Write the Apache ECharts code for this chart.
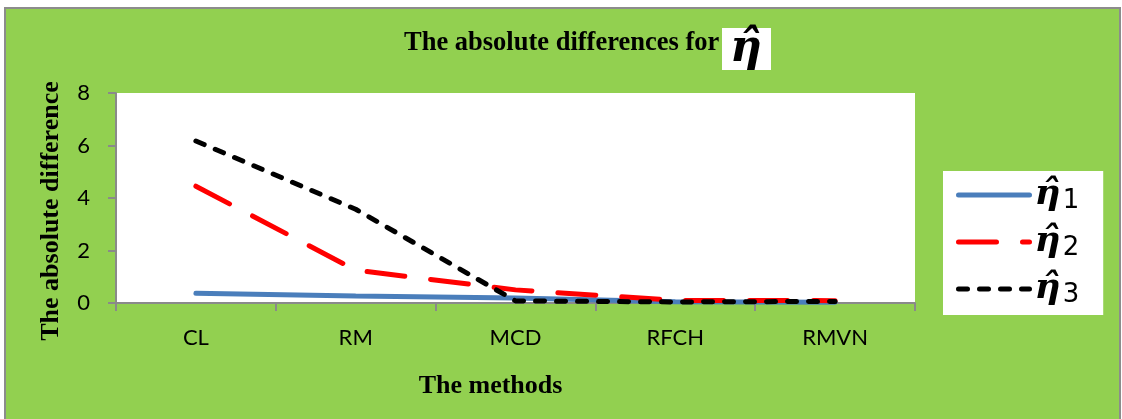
<!DOCTYPE html>
<html>
<head>
<meta charset="utf-8">
<script src="https://cdn.jsdelivr.net/npm/echarts@6/dist/echarts.min.js"></script>
<style>
  html, body { margin: 0; padding: 0; background: #fff; }
  #chart { width: 1122px; height: 419px; }
</style>
</head>
<body>
<div id="chart"></div>
<script>
// Methods compared along the x axis
const categories = ['CL', 'RM', 'MCD', 'RFCH', 'RMVN'];

// Absolute differences for each estimator
const eta1 = [0.37, 0.27, 0.19, 0.05, 0.03];
const eta2 = [4.45, 1.25, 0.50, 0.10, 0.09];
const eta3 = [6.17, 3.57, 0.08, 0.04, 0.06];

const seriesNames = ['η̂1', 'η̂2', 'η̂3'];
const yTicks = [0, 2, 4, 6, 8];

const axisGrey = '#8a8a8a';
const labelFont = 'Lato, "Open Sans", sans-serif';
const serifFont = '"Liberation Serif", "DejaVu Serif", serif';

const chart = echarts.init(document.getElementById('chart'), null, { renderer: 'canvas' });

chart.setOption({
  backgroundColor: '#fff',
  animation: false,
  title: {
    text: 'The absolute differences for',
    left: 404,
    top: 30,
    padding: 0,
    textStyle: { fontFamily: serifFont, fontWeight: 'bold', fontSize: 26.5, color: '#000' }
  },
  graphic: [
    {
      type: 'rect', z: -10, silent: true,
      shape: { x: 5, y: 8, width: 1115, height: 420 },
      style: { fill: '#92D050', stroke: '#8c8c8c', lineWidth: 2 }
    },
    {
      type: 'group', left: 722, top: 28, z: 10,
      children: [
        { type: 'rect', shape: { x: 0, y: 0, width: 49, height: 42 }, style: { fill: '#fff' } },
        {
          type: 'text', x: 24, y: 22,
          style: {
            text: 'η̂', align: 'center', verticalAlign: 'middle',
            font: 'italic bold 44px "DejaVu Serif", serif', fill: '#000'
          }
        }
      ]
    }
  ],
  legend: {
    orient: 'vertical',
    left: 943,
    top: 171,
    padding: [5, 24, 7, 13],
    backgroundColor: '#fff',
    itemWidth: 71,
    itemHeight: 20,
    itemGap: 9,
    itemStyle: { opacity: 0 },
    lineStyle: { width: 5, cap: 'round' },
    data: seriesNames,
    formatter: n => '{e|' + n.slice(0, -1) + '}{s|' + n.slice(-1) + '}',
    textStyle: {
      rich: {
        e: { fontFamily: '"DejaVu Serif", serif', fontStyle: 'italic', fontWeight: 'bold', fontSize: 36, lineHeight: 40, color: '#000' },
        s: { fontFamily: '"DejaVu Sans", sans-serif', fontSize: 26, lineHeight: 40, padding: [12, 0, 0, 2], color: '#000' }
      }
    }
  },
  grid: {
    left: 116, right: 207, top: 93, bottom: 116,
    show: true, backgroundColor: '#fff', borderWidth: 0
  },
  xAxis: {
    type: 'category',
    data: categories,
    boundaryGap: true,
    name: 'The methods',
    nameLocation: 'middle',
    nameGap: 70,
    nameTextStyle: {
      fontFamily: serifFont, fontWeight: 'bold', fontSize: 26, color: '#000',
      padding: [0, 50, 0, 0]
    },
    axisLine: { lineStyle: { color: axisGrey, width: 2 } },
    axisTick: { show: true, length: 8, lineStyle: { color: axisGrey, width: 2 } },
    axisLabel: { margin: 24, fontFamily: labelFont, fontSize: 22, color: '#000' },
    splitLine: { show: false }
  },
  yAxis: {
    type: 'value',
    min: yTicks[0],
    max: yTicks[yTicks.length - 1],
    interval: yTicks[1] - yTicks[0],
    name: 'The absolute difference',
    nameLocation: 'middle',
    nameRotate: 90,
    nameGap: 52,
    nameTextStyle: {
      fontFamily: serifFont, fontWeight: 'bold', fontSize: 26, color: '#000',
      padding: [0, 26, 0, 0]
    },
    axisLine: { show: true, lineStyle: { color: axisGrey, width: 2 } },
    axisTick: { show: true, length: 8, lineStyle: { color: axisGrey, width: 2 } },
    axisLabel: { margin: 26, fontFamily: labelFont, fontSize: 22, color: '#000' },
    splitLine: { show: false }
  },
  series: [
    {
      name: seriesNames[0], type: 'line', data: eta1, symbol: 'none', z: 2,
      color: '#4A7EBB',
      lineStyle: { color: '#4A7EBB', width: 5, cap: 'round' }
    },
    {
      name: seriesNames[1], type: 'line', data: eta2, symbol: 'none', z: 3,
      color: '#FF0000',
      lineStyle: { color: '#FF0000', width: 5, type: [38, 26], cap: 'round' }
    },
    {
      name: seriesNames[2], type: 'line', data: eta3, symbol: 'none', z: 4,
      color: '#000000',
      lineStyle: { color: '#000000', width: 5, type: [9, 12], cap: 'round' }
    }
  ]
});
</script>
</body>
</html>
